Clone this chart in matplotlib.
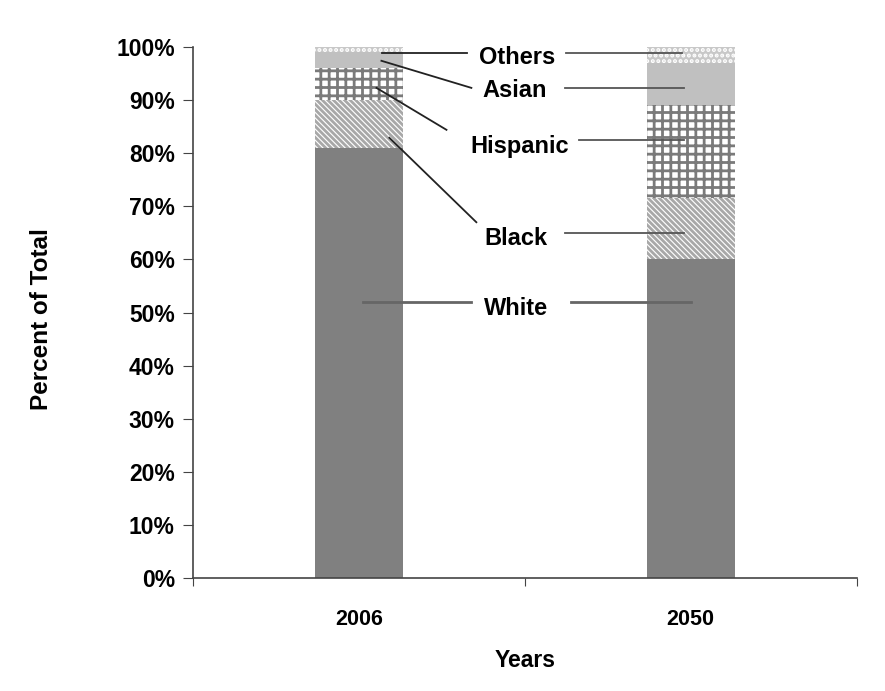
import matplotlib
matplotlib.use("Agg")
import matplotlib.pyplot as plt
import numpy as np

plt.rcParams['font.family'] = ['Liberation Sans', 'DejaVu Sans']
plt.rcParams['font.weight'] = 'bold'
plt.rcParams['hatch.linewidth'] = 2.0

years = ['2006', '2050']
groups = ['White', 'Black', 'Hispanic', 'Asian', 'Others']
white = [81, 60]
black = [9, 11.5]
hispanic = [6, 17.5]
asian = [3, 8]
others = [1, 3]

# label position (x, y) and leader lines to each bar
label_pos = {'Others': (0.477, 98.1), 'Asian': (0.468, 91.9), 'Hispanic': (0.486, 81.2),
             'Black': (0.474, 64.0), 'White': (0.474, 50.8)}
left_lines = {'Others': ([0.071, 0.325], [98.8, 98.8]), 'Asian': ([0.068, 0.339], [97.4, 92.3]),
              'Hispanic': ([0.053, 0.264], [92.3, 84.4]), 'Black': ([0.092, 0.354], [82.9, 67.0]),
              'White': ([0.011, 0.339], [52.0, 52.0])}
right_lines = {'Others': ([0.625, 0.974], [98.8, 98.8]), 'Asian': ([0.622, 0.980], [92.3, 92.3]),
               'Hispanic': ([0.664, 0.980], [82.5, 82.5]), 'Black': ([0.622, 0.980], [65.0, 65.0]),
               'White': ([0.640, 1.001], [52.0, 52.0])}

styles = {
    'White': dict(color='#808080'),
    'Black': dict(facecolor='white', edgecolor='#a8a8a8', hatch='\\\\\\\\\\\\'),
    'Hispanic': dict(facecolor='white', edgecolor='#7a7a7a', hatch='++'),
    'Asian': dict(color='#c0c0c0'),
    'Others': dict(facecolor='#c8c8c8', edgecolor='white', hatch='...'),
}

fig = plt.figure(figsize=(8.85, 6.91), dpi=100)
ax = fig.add_axes([0.218, 0.1635, 0.75, 0.7685])

x = np.arange(len(years))
bottom = np.zeros(len(years))
for name, vals in zip(groups, [white, black, hispanic, asian, others]):
    ax.bar(x, vals, 0.265, bottom=bottom, linewidth=0, **styles[name])
    bottom += np.array(vals)

for name in groups:
    lx, ly = left_lines[name]
    rx, ry = right_lines[name]
    c = '#666666' if name == 'White' else '#222222'
    lw = 2.0 if name == 'White' else 1.3
    ax.plot(lx, ly, color=c, lw=lw)
    ax.plot(rx, ry, color='#555555' if name != 'White' else '#666666', lw=lw)
    tx, ty = label_pos[name]
    ax.text(tx, ty, name, ha='center', va='center', fontsize=17, fontweight='bold')

ax.set_xlim(-0.5, 1.5)
ax.set_ylim(0, 100)
ax.set_yticks(np.arange(0, 101, 10))
ax.set_yticklabels([f'{v}%' for v in range(0, 101, 10)], fontsize=16.5, fontweight='bold')
ax.set_xticks([-0.5, 0.5, 1.5])
ax.set_xticklabels([])
ax.set_xticks(x, minor=True)
ax.set_xticklabels(years, minor=True, fontsize=15.5, fontweight='bold')
ax.tick_params(axis='x', which='major', direction='out', length=6, color='#444444')
ax.tick_params(axis='x', which='minor', length=0, pad=22)
ax.tick_params(axis='y', direction='out', length=7, color='#444444', pad=6)
for s in ['top', 'right']:
    ax.spines[s].set_visible(False)
for s in ['left', 'bottom']:
    ax.spines[s].set_color('#444444')
    ax.spines[s].set_linewidth(1.2)

ax.set_xlabel('Years', fontsize=16.5, fontweight='bold', labelpad=14)
fig.text(42 / 885, 1 - 319 / 691, 'Percent of Total', rotation=90, ha='center', va='center',
         fontsize=17.5, fontweight='bold')

fig.savefig('out.png', dpi=100)
